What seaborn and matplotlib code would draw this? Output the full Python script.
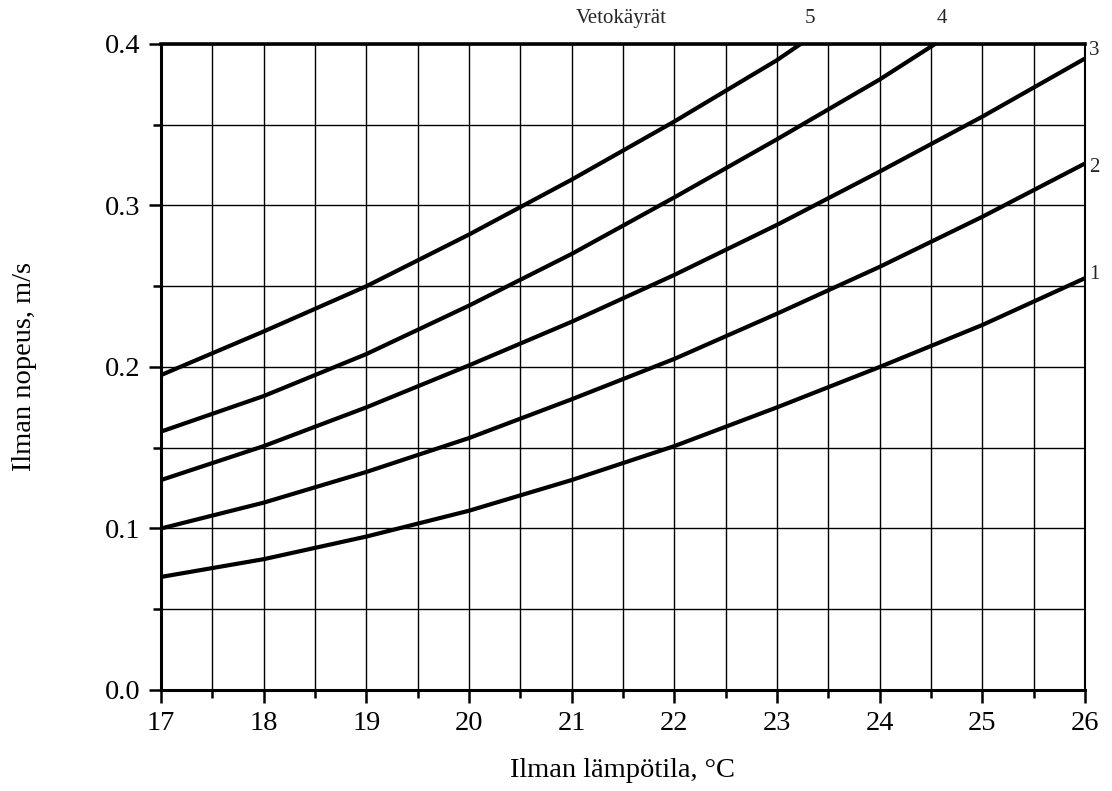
import numpy as np
import pandas as pd
import seaborn as sns
import matplotlib.pyplot as plt
from matplotlib.ticker import MultipleLocator

# (temperature °C -> air speed m/s)
temp_1_3 = [17, 18, 19, 20, 21, 22, 23, 24, 25, 26]
curve_1 = [0.070, 0.081, 0.095, 0.111, 0.130, 0.151, 0.175, 0.200, 0.226, 0.255]
curve_2 = [0.100, 0.116, 0.135, 0.156, 0.180, 0.205, 0.233, 0.262, 0.293, 0.326]
curve_3 = [0.130, 0.151, 0.175, 0.201, 0.228, 0.257, 0.288, 0.321, 0.355, 0.391]
temp_4 = [17, 18, 19, 20, 21, 22, 23, 24, 24.54]
curve_4 = [0.160, 0.182, 0.208, 0.238, 0.270, 0.305, 0.341, 0.378, 0.400]
temp_5 = [17, 18, 19, 20, 21, 22, 23, 23.23]
curve_5 = [0.195, 0.222, 0.250, 0.282, 0.316, 0.352, 0.390, 0.400]

curve_names = ["1", "2", "3", "4", "5"]

frames = []
for name, xs, ys in zip(curve_names,
                        [temp_1_3, temp_1_3, temp_1_3, temp_4, temp_5],
                        [curve_1, curve_2, curve_3, curve_4, curve_5]):
    frames.append(pd.DataFrame({"temp": xs, "speed": ys, "curve": name}))
df = pd.concat(frames, ignore_index=True)

sns.set_theme(style="white")
plt.rcParams["font.family"] = ["Liberation Serif", "DejaVu Serif"]

fig = plt.figure(figsize=(11.12, 7.91), dpi=100)
ax = fig.add_axes([0.1448, 0.1277, 0.8309, 0.8167])

sns.lineplot(data=df, x="temp", y="speed", hue="curve",
             palette=["black"] * 5, linewidth=3.0, legend=False,
             sort=True, estimator=None, ax=ax, zorder=3)

ax.set_xlim(17, 26)
ax.set_ylim(0, 0.4)
ax.xaxis.set_major_locator(MultipleLocator(1))
ax.xaxis.set_minor_locator(MultipleLocator(0.5))
ax.yaxis.set_major_locator(MultipleLocator(0.1))
ax.yaxis.set_minor_locator(MultipleLocator(0.05))
ax.yaxis.set_major_formatter(plt.FuncFormatter(lambda v, p: f"{v:.1f}"))

ax.grid(which="both", color="black", linewidth=1.0)
ax.set_axisbelow(True)
ax.tick_params(which="major", direction="out", length=9, width=1.8,
               labelsize=20.5, color="black", labelcolor="black", pad=6)
ax.tick_params(which="minor", direction="out", length=5.5, width=1.8,
               color="black")
ax.tick_params(axis="x", which="both", bottom=True)
ax.tick_params(axis="y", which="both", left=True)

for side, lw in [("left", 2.2), ("bottom", 2.2), ("top", 2.6), ("right", 1.5)]:
    ax.spines[side].set_visible(True)
    ax.spines[side].set_color("black")
    ax.spines[side].set_linewidth(lw)

ax.set_xlabel("Ilman lämpötila, °C", fontsize=20.5, labelpad=16, color="black")
ax.set_ylabel("Ilman nopeus, m/s", fontsize=20.5, labelpad=49, color="black")

# curve labels
ax.text(21.48, 0.4155, "Vetokäyrät", fontsize=15, ha="center", va="center")
ax.text(23.32, 0.4155, "5", fontsize=15, ha="center", va="center")
ax.text(24.61, 0.4155, "4", fontsize=15, ha="center", va="center")
ax.text(26.04, 0.396, "3", fontsize=15, ha="left", va="center")
ax.text(26.04, 0.3235, "2", fontsize=15, ha="left", va="center")
ax.text(26.04, 0.257, "1", fontsize=15, ha="left", va="center")

fig.savefig("out.png", dpi=100)
